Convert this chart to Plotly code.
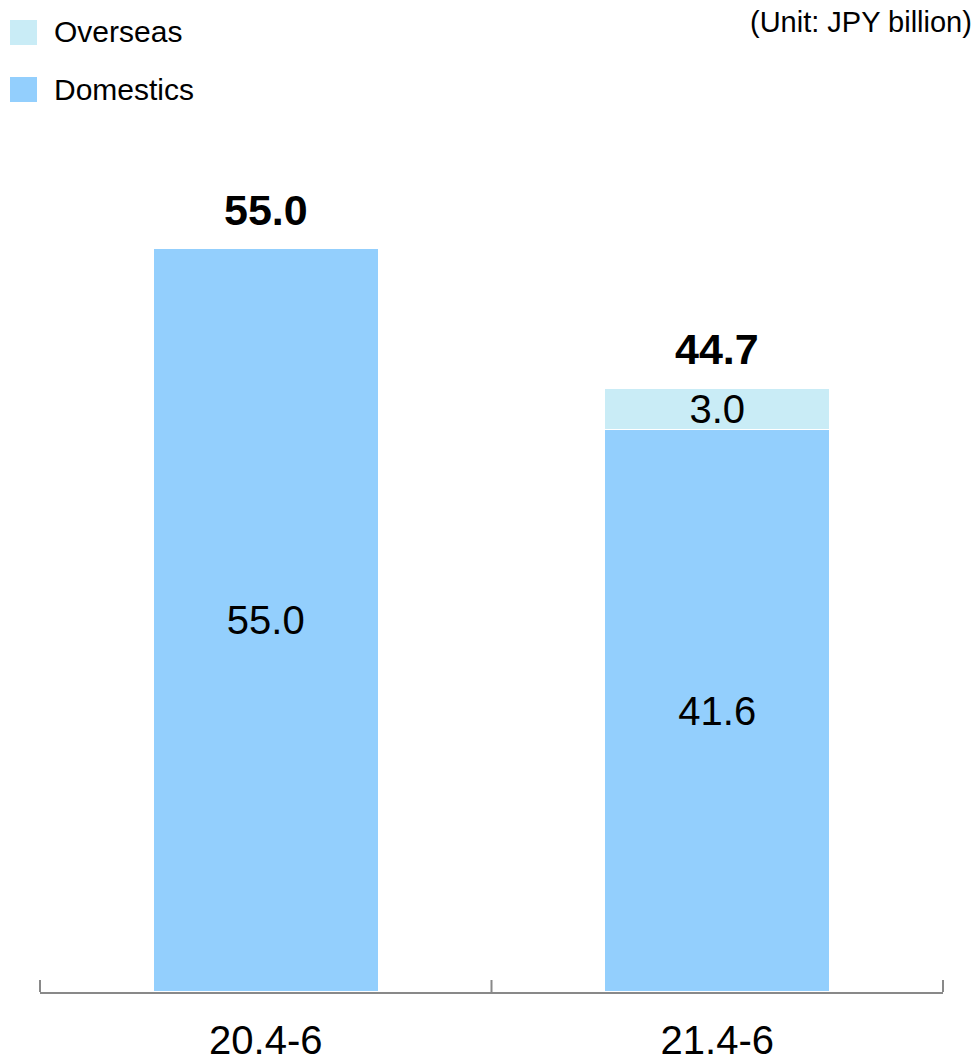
import plotly.graph_objects as go

# ---- data ----
categories = ["20.4-6", "21.4-6"]
domestics = [55.0, 41.6]
overseas = [None, 3.0]
totals = [55.0, 44.7]
domestic_labels = ["55.0", "41.6"]
overseas_labels = ["", "3.0"]
total_labels = ["55.0", "44.7"]
series_names = ["Overseas", "Domestics"]
unit_text = "(Unit: JPY billion)"

# ---- styling ----
W, H = 978, 1062
M_L, M_R, M_T, M_B = 40, 35, 150, 70
C_DOM = "#93CFFD"
C_OVS = "#C9ECF6"
AXIS_C = "#898989"
FONT = "Liberation Sans, Arial, sans-serif"
px_per_unit = 744 / 55.0
plot_h = H - M_T - M_B
plot_w = W - M_L - M_R
y_max = plot_h / px_per_unit


def px_x(x):
    return (x - M_L) / plot_w


def px_y(y):
    return (H - M_B - y) / plot_h


fig = go.Figure()
fig.add_trace(go.Bar(
    x=categories, y=domestics, name=series_names[1],
    marker=dict(color=C_DOM, line=dict(color="white", width=1.5)),
    text=domestic_labels, textposition="inside", insidetextanchor="middle",
    constraintext="none",
    textfont=dict(size=40, color="black", family=FONT), width=0.5,
    showlegend=False,
))
fig.add_trace(go.Bar(
    x=categories, y=overseas, name=series_names[0],
    marker=dict(color=C_OVS, line=dict(color="white", width=1.5)),
    text=overseas_labels, textposition="inside", insidetextanchor="middle",
    constraintext="none",
    textfont=dict(size=40, color="black", family=FONT), width=0.5,
    showlegend=False,
))

annotations = []
for c, t, lab in zip(categories, totals, total_labels):
    annotations.append(dict(
        x=c, y=t, xref="x", yref="y", text="<b>" + lab + "</b>",
        showarrow=False, yanchor="bottom", yshift=12,
        font=dict(size=43, color="black", family=FONT),
    ))

annotations.append(dict(
    x=px_x(974), y=px_y(22), xref="paper", yref="paper", text=unit_text,
    showarrow=False, xanchor="right", yanchor="middle",
    font=dict(size=29, color="black", family=FONT),
))

shapes = []
legend_items = [(series_names[0], C_OVS, 20, 45, 32), (series_names[1], C_DOM, 77, 102, 89)]
for name, col, y0, y1, yc in legend_items:
    shapes.append(dict(type="rect", xref="paper", yref="paper",
                       x0=px_x(10), x1=px_x(37), y0=px_y(y1), y1=px_y(y0),
                       fillcolor=col, line=dict(width=0)))
    annotations.append(dict(
        x=px_x(52), y=px_y(yc), xref="paper", yref="paper", text=name,
        showarrow=False, xanchor="left", yanchor="middle",
        font=dict(size=30, color="black", family=FONT),
    ))

# category-boundary tick marks (inside, pointing up)
n_cat = len(categories)
for i in range(n_cat + 1):
    xb = (i / n_cat)
    shapes.append(dict(type="line", xref="paper", yref="paper",
                       x0=xb, x1=xb, y0=0, y1=12 / plot_h,
                       line=dict(color=AXIS_C, width=2)))

fig.update_layout(
    width=W, height=H, barmode="stack",
    margin=dict(l=M_L, r=M_R, t=M_T, b=M_B, autoexpand=False),
    plot_bgcolor="white", paper_bgcolor="white",
    font=dict(family=FONT, color="black"),
    annotations=annotations, shapes=shapes, showlegend=False,
    xaxis=dict(
        type="category", range=[-0.5, 1.5],
        ticks="", automargin=False,
        showline=True, linecolor=AXIS_C, linewidth=2,
        tickfont=dict(size=40, color="black", family=FONT),
        ticklabelstandoff=12,
        showgrid=False, zeroline=False, fixedrange=True,
    ),
    yaxis=dict(range=[0, y_max], visible=False, showgrid=False,
               zeroline=False, fixedrange=True),
)

fig.write_html("out.html", config={"displayModeBar": False})
